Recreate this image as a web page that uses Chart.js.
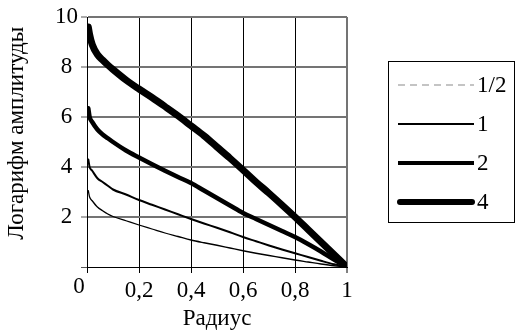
<!DOCTYPE html>
<html>
<head>
<meta charset="utf-8">
<script src="https://cdn.jsdelivr.net/npm/chart.js@4/dist/chart.umd.min.js"></script>
<style>
  html, body { margin: 0; padding: 0; background: #fff; }
  #wrap { width: 515px; height: 333px; }
</style>
</head>
<body>
<div id="wrap"><canvas id="c" width="515" height="333"></canvas></div>
<script>
// ---- data ----
const radius = [0.005, 0.01, 0.02, 0.04, 0.06, 0.08, 0.10, 0.15, 0.20, 0.25, 0.30, 0.35, 0.40, 0.45, 0.50, 0.55, 0.60, 0.65, 0.70, 0.75, 0.80, 0.85, 0.90, 0.95, 1.00];
const seriesHalf = [3.05, 2.80, 2.65, 2.40, 2.25, 2.12, 2.02, 1.85, 1.68, 1.52, 1.36, 1.22, 1.08, 0.97, 0.87, 0.76, 0.65, 0.55, 0.46, 0.37, 0.28, 0.20, 0.12, 0.05, 0.00];
const seriesOne  = [4.30, 4.00, 3.85, 3.55, 3.40, 3.25, 3.10, 2.90, 2.68, 2.49, 2.30, 2.11, 1.92, 1.74, 1.57, 1.39, 1.20, 1.03, 0.86, 0.70, 0.55, 0.40, 0.25, 0.11, 0.00];
const seriesTwo  = [6.35, 6.00, 5.80, 5.50, 5.30, 5.15, 5.00, 4.66, 4.38, 4.11, 3.85, 3.60, 3.36, 3.06, 2.76, 2.46, 2.16, 1.92, 1.68, 1.44, 1.20, 0.92, 0.62, 0.30, 0.00];
const seriesFour = [9.60, 9.30, 8.90, 8.50, 8.28, 8.08, 7.90, 7.48, 7.12, 6.78, 6.42, 6.05, 5.65, 5.25, 4.80, 4.35, 3.88, 3.40, 2.95, 2.48, 2.00, 1.50, 1.00, 0.50, 0.00];
const seriesLabels = ['1/2', '1', '2', '4'];
const xTickLabels = ['0', '0,2', '0,4', '0,6', '0,8', '1'];
const yTickLabels = ['', '2', '4', '6', '8', '10'];
const xTitle = 'Радиус';
const yTitle = 'Логарифм амплитуды';

const FONT = "'Liberation Serif', 'Times New Roman', serif";
const FS = 23;

function pts(ys) { return radius.map((x, i) => ({ x: x, y: ys[i] })); }

const legendStyles = [
  { color: '#8a8a8a', width: 1.2, dash: [7, 5], cap: 'butt' },
  { color: '#000', width: 2, dash: [], cap: 'butt' },
  { color: '#000', width: 4, dash: [], cap: 'butt' },
  { color: '#000', width: 6, dash: [], cap: 'round' }
];

const boxLegend = {
  id: 'boxLegend',
  afterDraw(chart) {
    const ctx = chart.ctx;
    ctx.save();
    ctx.strokeStyle = '#000';
    ctx.lineWidth = 1;
    ctx.setLineDash([]);
    ctx.strokeRect(388.5, 61.5, 126, 161);
    const ys = [85, 124, 163, 202];
    ctx.font = FS + 'px ' + FONT;
    ctx.fillStyle = '#000';
    ctx.textBaseline = 'middle';
    ctx.textAlign = 'left';
    chart.data.datasets.forEach((ds, i) => {
      const st = legendStyles[i];
      ctx.beginPath();
      ctx.strokeStyle = st.color;
      ctx.lineWidth = st.width;
      ctx.lineCap = st.cap;
      ctx.setLineDash(st.dash);
      ctx.moveTo(i === 3 ? 400 : 398, ys[i]);
      ctx.lineTo(i === 3 ? 472 : 474, ys[i]);
      ctx.stroke();
      ctx.setLineDash([]);
      ctx.fillText(ds.label, 477, ys[i] + 1);
    });
    ctx.textAlign = 'center';
    ctx.textBaseline = 'alphabetic';
    ctx.fillText(xTickLabels[0], 79, 293);
    ctx.restore();
  }
};

const isEnd = (c) => c.tick && Math.abs(c.tick.value - 1) < 1e-6;
const isZero = (c) => c.tick && Math.abs(c.tick.value) < 1e-6;

new Chart(document.getElementById('c'), {
  type: 'line',
  data: {
    datasets: [
      { label: seriesLabels[0], data: pts(seriesHalf), borderColor: '#000', borderWidth: 1.3 },
      { label: seriesLabels[1], data: pts(seriesOne),  borderColor: '#000', borderWidth: 2 },
      { label: seriesLabels[2], data: pts(seriesTwo),  borderColor: '#000', borderWidth: 4.5 },
      { label: seriesLabels[3], data: pts(seriesFour), borderColor: '#000', borderWidth: 7 }
    ]
  },
  options: {
    responsive: false,
    animation: false,
    layout: { padding: { left: 0, right: 168, top: 17, bottom: 0 } },
    elements: { point: { radius: 0 }, line: { cubicInterpolationMode: 'monotone', fill: false, borderJoinStyle: 'round', borderCapStyle: 'round' } },
    plugins: { legend: { display: false }, tooltip: { enabled: false } },
    scales: {
      x: {
        type: 'linear', min: 0, max: 1,
        afterFit(s) { s.height = 66; },
        ticks: {
          stepSize: 0.2, color: '#000', padding: 4,
          font: { family: FONT, size: FS },
          maxRotation: 0, autoSkip: false,
          callback(v, i) { return i === 0 ? '' : xTickLabels[i]; }
        },
        grid: {
          color: (c) => isEnd(c) ? '#747474' : '#000',
          lineWidth: (c) => isEnd(c) ? 2 : 1,
          tickColor: '#000', tickWidth: 1,
          tickLength: 6
        },
        border: { color: '#000', width: 1 },
        title: { display: true, text: xTitle, color: '#000', font: { family: FONT, size: FS }, padding: { top: 0, bottom: 0 } }
      },
      y: {
        type: 'linear', min: 0, max: 10,
        afterFit(s) { s.width = 87; },
        ticks: {
          stepSize: 2, color: '#000', padding: 3, crossAlign: 'center',
          font: { family: FONT, size: FS },
          callback(v, i) { return yTickLabels[i]; }
        },
        grid: {
          color: (c) => isZero(c) ? '#000' : '#747474',
          lineWidth: (c) => isZero(c) ? 1 : 2,
          tickColor: '#555', tickWidth: 1,
          tickLength: 6
        },
        border: { color: '#000', width: 1 },
        title: { display: true, text: '   ' + yTitle, color: '#000', font: { family: FONT, size: FS }, padding: { top: 3, bottom: 0 } }
      }
    }
  },
  plugins: [boxLegend]
});
</script>
</body>
</html>
